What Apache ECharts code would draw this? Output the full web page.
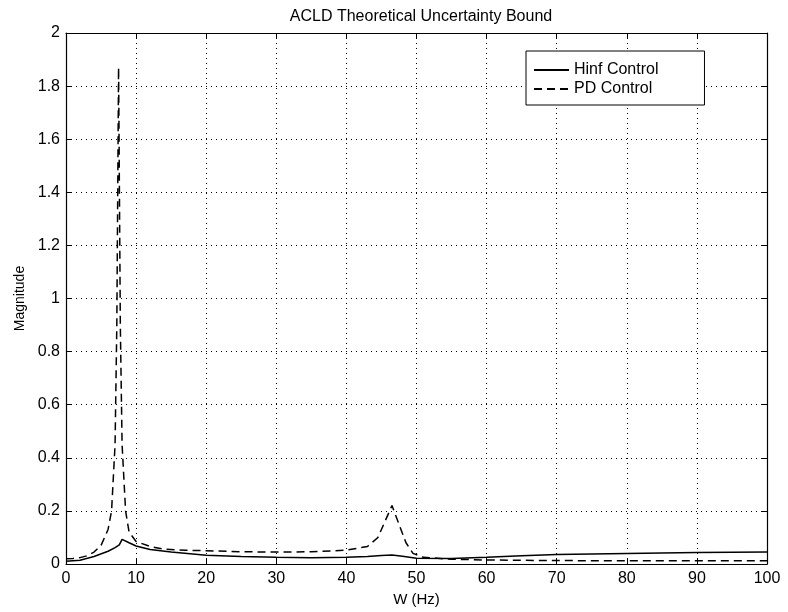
<!DOCTYPE html>
<html>
<head>
<meta charset="utf-8">
<script src="https://cdn.jsdelivr.net/npm/echarts@6/dist/echarts.min.js"></script>
<style>
  html, body { margin: 0; padding: 0; background: #fff; }
  #chart { width: 788px; height: 612px; }
</style>
</head>
<body>
<div id="chart"></div>
<script>
// Frequency samples (Hz) and magnitudes for each controller
const hinfFreq = [0, 2, 4, 6, 7, 7.6, 8, 9, 10, 12, 15, 20, 25, 30, 35, 40, 43, 45, 46.5, 48, 50, 55, 60, 65, 70, 75, 80, 90, 100];
const hinfMag  = [0.010, 0.014, 0.028, 0.048, 0.062, 0.072, 0.093, 0.080, 0.068, 0.055, 0.045, 0.033, 0.028, 0.025, 0.024, 0.025, 0.028, 0.032, 0.034, 0.029, 0.022, 0.021, 0.025, 0.031, 0.036, 0.038, 0.040, 0.043, 0.045];

const pdFreq = [0, 1, 2, 3, 4, 5, 6, 6.5, 7, 7.25, 7.5, 7.75, 8, 8.5, 9, 10, 12, 14, 17, 20, 25, 30, 35, 40, 43, 44.5, 45.5, 46.5, 47.5, 48.5, 49.5, 51, 55, 60, 70, 80, 90, 100];
const pdMag  = [0.020, 0.021, 0.024, 0.031, 0.045, 0.070, 0.130, 0.200, 0.450, 0.900, 1.870, 0.900, 0.450, 0.200, 0.120, 0.085, 0.066, 0.056, 0.052, 0.050, 0.046, 0.045, 0.046, 0.052, 0.066, 0.100, 0.160, 0.220, 0.150, 0.080, 0.040, 0.025, 0.018, 0.015, 0.013, 0.012, 0.012, 0.012];

const seriesNames = ['Hinf Control', 'PD Control'];
const titleText = 'ACLD Theoretical Uncertainty Bound';
const xLabel = 'W (Hz)';
const yLabel = 'Magnitude';

const pairs = (xs, ys) => xs.map((x, i) => [x, ys[i]]);

const font = 'Liberation Sans, Arial, Helvetica, sans-serif';
const gridLine = { show: true, lineStyle: { color: '#000', type: [1, 4], width: 1 } };
const axisLine = { show: true, onZero: false, lineStyle: { color: '#000', width: 1.2 } };
const tick = { show: true, inside: true, length: 5, lineStyle: { color: '#000', width: 1 } };

const chart = echarts.init(document.getElementById('chart'), null, { renderer: 'canvas' });
chart.setOption({
  backgroundColor: '#fff',
  animation: false,
  title: {
    text: titleText,
    left: 416, textAlign: 'center', top: 4,
    textStyle: { fontFamily: font, fontSize: 16, fontWeight: 'normal', color: '#000' }
  },
  grid: { left: 66, right: 21, top: 33, bottom: 45, containLabel: false },
  legend: {
    orient: 'vertical',
    left: 526, top: 51,
    padding: [11, 46, 8, 7],
    itemGap: 3,
    itemWidth: 35, itemHeight: 16,
    backgroundColor: '#fff',
    borderColor: '#000', borderWidth: 1, borderRadius: 0,
    itemStyle: { opacity: 0 },
    textStyle: { fontFamily: font, fontSize: 16, color: '#000' },
    data: seriesNames
  },
  xAxis: [{
    type: 'value', min: 0, max: 100, interval: 10,
    name: xLabel, nameLocation: 'middle', nameGap: 28,
    nameTextStyle: { fontFamily: font, fontSize: 15, color: '#000' },
    axisLine, axisTick: tick,
    axisLabel: { fontFamily: font, fontSize: 16, color: '#000', margin: 7 },
    splitLine: gridLine
  }, {
    type: 'value', min: 0, max: 100, interval: 10, position: 'top',
    axisLine, axisTick: tick, axisLabel: { show: false }, splitLine: { show: false }
  }],
  yAxis: [{
    type: 'value', min: 0, max: 2, interval: 0.2,
    name: yLabel, nameLocation: 'middle', nameGap: 35,
    nameTextStyle: { fontFamily: font, fontSize: 14, color: '#000' },
    axisLine, axisTick: tick,
    axisLabel: { fontFamily: font, fontSize: 16, color: '#000', margin: 6 },
    splitLine: gridLine
  }, {
    type: 'value', min: 0, max: 2, interval: 0.2, position: 'right',
    axisLine, axisTick: tick, axisLabel: { show: false }, splitLine: { show: false }
  }],
  series: [{
    name: seriesNames[0], type: 'line', symbol: 'none', showSymbol: false,
    data: pairs(hinfFreq, hinfMag),
    lineStyle: { color: '#000', width: 1.5, type: 'solid' },
    itemStyle: { color: '#000' }
  }, {
    name: seriesNames[1], type: 'line', symbol: 'none', showSymbol: false,
    data: pairs(pdFreq, pdMag),
    lineStyle: { color: '#000', width: 1.5, type: [8, 5] },
    itemStyle: { color: '#000' }
  }]
});
</script>
</body>
</html>
